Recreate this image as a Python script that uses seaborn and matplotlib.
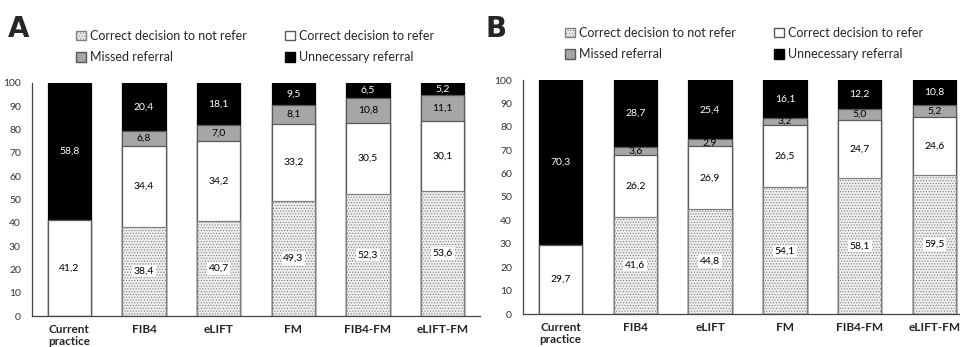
import pandas as pd
import matplotlib
matplotlib.use("Agg")
import matplotlib.pyplot as plt
import seaborn as sns
from matplotlib.patches import Patch

methods = ["Current\npractice", "FIB4", "eLIFT", "FM", "FIB4-FM", "eLIFT-FM"]

# Panel A
a_not_refer = [0, 38.4, 40.7, 49.3, 52.3, 53.6]
a_refer = [41.2, 34.4, 34.2, 33.2, 30.5, 30.1]
a_missed = [0, 6.8, 7.0, 8.1, 10.8, 11.1]
a_unnecessary = [58.8, 20.4, 18.1, 9.5, 6.5, 5.2]

# Panel B
b_not_refer = [0, 41.6, 44.8, 54.1, 58.1, 59.5]
b_refer = [29.7, 26.2, 26.9, 26.5, 24.7, 24.6]
b_missed = [0, 3.6, 2.9, 3.2, 5.0, 5.2]
b_unnecessary = [70.3, 28.7, 25.4, 16.1, 12.2, 10.8]

sns.set_style("white")
plt.rcParams["font.family"] = ["Lato", "DejaVu Sans"]
plt.rcParams["hatch.linewidth"] = 0.5

DOT_FC = "#eeeeee"
DOT_EC = "#808080"
GRAY = "#a6a6a6"
EDGE = "#595959"


def fmt(v):
    return f"{v:.1f}".replace(".", ",")


def draw_panel(ax, not_refer, refer, missed, unnecessary):
    df = pd.DataFrame({"method": methods, "not_refer": not_refer, "refer": refer,
                       "missed": missed, "unnecessary": unnecessary})
    df["top_refer"] = df["not_refer"] + df["refer"]
    df["top_missed"] = df["top_refer"] + df["missed"]
    df["total"] = df["top_missed"] + df["unnecessary"]

    # draw cumulative bars from the tallest down so they overlap into a stack
    layers = [("total", "black", None, "black"),
              ("top_missed", GRAY, None, EDGE),
              ("top_refer", "white", None, EDGE),
              ("not_refer", DOT_FC, "......", DOT_EC)]
    for col, fc, hatch, ec in layers:
        sns.barplot(data=df, x="method", y=col, color=fc, saturation=1,
                    edgecolor=ec, linewidth=0.9, hatch=hatch, width=0.58,
                    errorbar=None, ax=ax)

    for i, row in df.iterrows():
        segs = [("not_refer", 0), ("refer", row["not_refer"]),
                ("missed", row["top_refer"]), ("unnecessary", row["top_missed"])]
        for name, base in segs:
            v = row[name]
            if v <= 0:
                continue
            color = "white" if name == "unnecessary" else "black"
            bbox = None
            if name == "not_refer":
                bbox = dict(facecolor="white", edgecolor="none", pad=1.2)
            ax.text(i, base + v / 2, fmt(v), ha="center", va="center",
                    fontsize=7.5, color=color, bbox=bbox)

    ax.set_ylim(0, 100)
    ax.set_xlim(-0.5, 5.5)
    ax.set_yticks(range(0, 101, 10))
    ax.tick_params(axis="y", labelsize=7.5, labelcolor="#333333", length=0, pad=8)
    ax.tick_params(axis="x", labelsize=8.5, length=0, pad=6)
    for lab in ax.get_xticklabels():
        lab.set_fontweight("bold")
        lab.set_linespacing(1.1)
    ax.set_xlabel("")
    ax.set_ylabel("")
    sns.despine(ax=ax)
    for side in ("left", "bottom"):
        ax.spines[side].set_color("#444444")
        ax.spines[side].set_linewidth(0.9)


fig = plt.figure(figsize=(9.6, 3.47), dpi=100)
ax_a = fig.add_axes([32 / 960, 31 / 347, 448 / 960, 233 / 347])
ax_b = fig.add_axes([523 / 960, 33 / 347, 449 / 960, 234 / 347])

draw_panel(ax_a, a_not_refer, a_refer, a_missed, a_unnecessary)
draw_panel(ax_b, b_not_refer, b_refer, b_missed, b_unnecessary)

handles = [Patch(facecolor=DOT_FC, edgecolor=DOT_EC, hatch="......", label="Correct decision to not refer"),
           Patch(facecolor=GRAY, edgecolor=EDGE, label="Missed referral"),
           Patch(facecolor="white", edgecolor=EDGE, label="Correct decision to refer"),
           Patch(facecolor="black", edgecolor="black", label="Unnecessary referral")]

for x0, y0, letter, lx in [(76 / 960, 30 / 347, "A", 8 / 960), (565 / 960, 27 / 347, "B", 485 / 960)]:
    fig.legend(handles=handles, ncol=2, loc="upper left", bbox_to_anchor=(x0, 1 - y0),
               frameon=False, fontsize=9, handlelength=0.8, handleheight=0.8,
               handletextpad=0.3, columnspacing=3.1, labelspacing=0.75,
               borderaxespad=0, borderpad=0)
    fig.text(lx, 1 - 15 / 347, letter, fontsize=20, fontweight="bold", va="top",
             family="DejaVu Sans")

fig.savefig("out.png", dpi=100)
